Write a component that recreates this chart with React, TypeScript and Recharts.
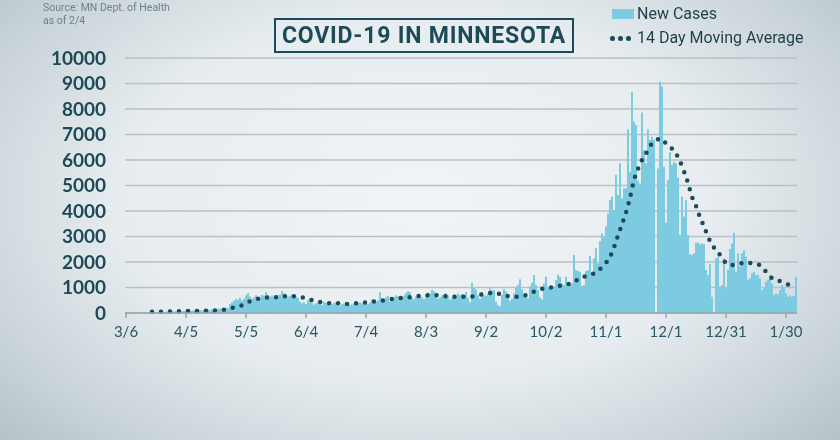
import { ComposedChart, Bar, Line, XAxis, YAxis, CartesianGrid } from "recharts";

// daily new cases, 3/6/2020 .. 2/4/2021
const MAR = [1, 0, 2, 3, 2, 5, 7, 10, 14, 19, 20, 25, 15, 27, 20, 35, 25, 30, 45, 40, 50, 55, 40, 60, 55, 65];
const APR = [60, 70, 55, 80, 90, 75, 85, 100, 95, 110, 85, 120, 100, 130, 115, 140, 110, 150, 160, 130, 170, 180, 150, 200, 210, 190, 350, 420, 480, 550];
const MAY = [520, 600, 480, 560, 700, 780, 650, 560, 620, 700, 540, 600, 720, 680, 820, 700, 650, 690, 620, 560, 700, 720, 860, 760, 700, 640, 680, 720, 600, 650, 590];
const JUN = [450, 380, 420, 350, 500, 460, 400, 320, 380, 420, 360, 300, 440, 400, 330, 280, 350, 390, 420, 300, 280, 350, 380, 410, 340, 300, 330, 360, 420, 390];
const JUL = [420, 380, 450, 480, 350, 410, 520, 470, 430, 500, 810, 560, 520, 610, 680, 450, 540, 620, 700, 650, 560, 620, 690, 780, 860, 820, 600, 540, 650, 720, 660];
const AUG = [620, 540, 720, 790, 760, 910, 850, 680, 560, 620, 700, 740, 780, 690, 520, 600, 720, 680, 760, 700, 750, 680, 820, 600, 420, 1190, 980, 920, 700, 560, 820];
const SEP = [700, 680, 760, 970, 880, 900, 440, 300, 260, 720, 930, 850, 640, 480, 560, 760, 1000, 1100, 1320, 930, 700, 640, 580, 1050, 1190, 1490, 1100, 900, 620, 540];
const OCT = [1160, 1420, 1000, 950, 900, 1030, 1290, 1500, 1420, 1160, 1100, 1420, 1160, 1100, 1160, 2270, 1690, 1650, 1620, 1060, 1100, 1650, 1690, 2250, 1600, 2140, 2540, 1950, 2810, 3120, 2990];
const NOV = [3390, 3900, 4430, 4560, 4040, 5410, 4630, 5870, 4500, 4890, 4890, 7200, 5540, 8680, 7500, 7370, 5200, 5080, 7860, 6390, 5870, 7200, 6780, 6910, 6780, 0, 5670, 9070, 8880, 5740];
const DEC = [3540, 5220, 6300, 5800, 5930, 5870, 5300, 3060, 4560, 3780, 4430, 3060, 2300, 2270, 2340, 2750, 2760, 2700, 2740, 2700, 1690, 1490, 1920, 640, 0, 2140, 2210, 1030, 1100, 2140, 960];
const JAN = [1690, 2510, 2730, 3150, 1620, 2340, 1820, 2340, 2470, 2210, 1300, 1360, 1560, 1620, 1490, 1500, 1360, 900, 970, 1230, 1300, 1490, 1160, 710, 770, 740, 900, 1100, 1030, 770, 640];
const FEB = [700, 640, 670, 1420];

const NEW_CASES = [...MAR, ...APR, ...MAY, ...JUN, ...JUL, ...AUG, ...SEP, ...OCT, ...NOV, ...DEC, ...JAN, ...FEB];

// 14 day moving average
const MA_DATES = [
  "3/19", "3/26", "4/2", "4/9", "4/16", "4/23", "4/28", "5/3", "5/7", "5/12", "5/17", "5/21", "5/26", "5/30",
  "6/3", "6/8", "6/12", "6/17", "6/21", "6/26", "6/30", "7/5", "7/10", "7/14", "7/18", "7/23", "7/28",
  "8/1", "8/6", "8/10", "8/15", "8/19", "8/24", "8/28", "9/1", "9/6", "9/10", "9/15", "9/19", "9/24", "9/28",
  "10/2", "10/7", "10/11", "10/15", "10/19", "10/23", "10/28", "10/31", "11/3", "11/5", "11/7", "11/9", "11/11",
  "11/13", "11/15", "11/17", "11/19", "11/21", "11/23", "11/26", "11/28", "12/1", "12/3", "12/6", "12/8",
  "12/10", "12/12", "12/14", "12/16", "12/18", "12/20", "12/22", "12/24", "12/27", "12/30", "1/2", "1/6",
  "1/10", "1/14", "1/17", "1/20", "1/23", "1/28", "2/1",
];
const MA_VALUES = [
  45, 55, 65, 80, 90, 120, 195, 300, 460, 575, 615, 620, 670, 650,
  600, 480, 420, 380, 380, 350, 390, 420, 470, 500, 560, 600, 640,
  680, 700, 690, 640, 640, 630, 680, 745, 800, 720, 640, 640, 770, 900,
  980, 1020, 1120, 1160, 1380, 1460, 1650, 1880, 2200, 2580, 3040, 3490, 3940,
  4520, 5210, 5650, 6000, 6250, 6550, 6750, 6850, 6650, 6520, 6250, 5950,
  5550, 5100, 4550, 4200, 3750, 3400, 2990, 2670, 2400, 2050, 1880, 1910,
  1990, 1920, 1880, 1620, 1370, 1220, 1080,
];

const Y_TICKS = [0, 1000, 2000, 3000, 4000, 5000, 6000, 7000, 8000, 9000, 10000];
const X_TICKS = ["3/6", "4/5", "5/5", "6/4", "7/4", "8/3", "9/2", "10/2", "11/1", "12/1", "12/31", "1/30"];

const DARK = "#1c4a56";
const BAR = "#7ccbe0";

const data = NEW_CASES.map((cases, i) => {
  const d = new Date(2020, 2, 6 + i);
  const date = `${d.getMonth() + 1}/${d.getDate()}`;
  const k = MA_DATES.indexOf(date);
  return { date, cases, ma: k >= 0 ? MA_VALUES[k] : null };
});

export default function App() {
  return (
    <div
      style={{
        position: "fixed",
        left: 0,
        top: 0,
        width: 840,
        height: 440,
        overflow: "hidden",
        fontFamily: "Roboto, sans-serif",
        background:
          "radial-gradient(ellipse 72% 85% at 50% 45%, #f1f4f6 0%, #e6ecef 50%, #c7d2d7 80%, #aebcc3 100%)",
      }}
    >
      <div style={{ position: "absolute", left: 0, top: 0 }}>
        <ComposedChart
          width={840}
          height={440}
          data={data}
          margin={{ top: 58, right: 43, bottom: 97, left: 0 }}
          barCategoryGap={0}
          barGap={0}
        >
          <CartesianGrid vertical={false} stroke="#b7c1c6" strokeWidth={1.5} />
          <XAxis
            dataKey="date"
            ticks={X_TICKS}
            interval={0}
            height={30}
            tickSize={5}
            tickMargin={8}
            tick={{ fill: "#2b5664", fontSize: 15, fontFamily: "Lato" }}
            axisLine={{ stroke: "#98a5ab", strokeWidth: 1.5 }}
            tickLine={{ stroke: "#98a5ab", strokeWidth: 1.5 }}
          />
          <YAxis
            domain={[0, 10000]}
            ticks={Y_TICKS}
            interval={0}
            width={125}
            tickLine={false}
            axisLine={false}
            tickMargin={13}
            tick={{ fill: DARK, fontSize: 19, fontWeight: 700, fontFamily: "Lato" }}
          />
          <Bar dataKey="cases" fill={BAR} isAnimationActive={false} />
          <Line
            dataKey="ma"
            type="monotone"
            stroke={DARK}
            strokeWidth={4.5}
            strokeDasharray="0 9"
            strokeLinecap="round"
            dot={false}
            activeDot={false}
            connectNulls
            isAnimationActive={false}
          />
        </ComposedChart>
      </div>

      {/* source note */}
      <div style={{ position: "absolute", left: 43, top: 1, fontSize: 10.5, lineHeight: "13px", color: "#6b838d" }}>
        Source: MN Dept. of Health
        <br />
        as of 2/4
      </div>

      {/* title */}
      <div
        style={{
          position: "absolute",
          left: 274,
          top: 18,
          width: 300,
          height: 35,
          boxSizing: "border-box",
          border: `2px solid ${DARK}`,
          color: DARK,
          fontWeight: 700,
          fontSize: 23,
          letterSpacing: 0.8,
          lineHeight: "31px",
          textAlign: "center",
        }}
      >
        COVID-19 IN MINNESOTA
      </div>

      {/* legend */}
      <div style={{ position: "absolute", left: 612, top: 9, width: 22, height: 10, background: BAR }} />
      <div style={{ position: "absolute", left: 637, top: 4, fontSize: 16, lineHeight: "20px", color: "#1e3e48" }}>
        New Cases
      </div>
      {[0, 1, 2].map((i) => (
        <div
          key={i}
          style={{
            position: "absolute",
            left: 610 + i * 8,
            top: 36,
            width: 4.5,
            height: 4.5,
            borderRadius: "50%",
            background: DARK,
          }}
        />
      ))}
      <div style={{ position: "absolute", left: 637, top: 28, fontSize: 16, lineHeight: "20px", color: "#1e3e48" }}>
        14 Day Moving Average
      </div>
    </div>
  );
}
